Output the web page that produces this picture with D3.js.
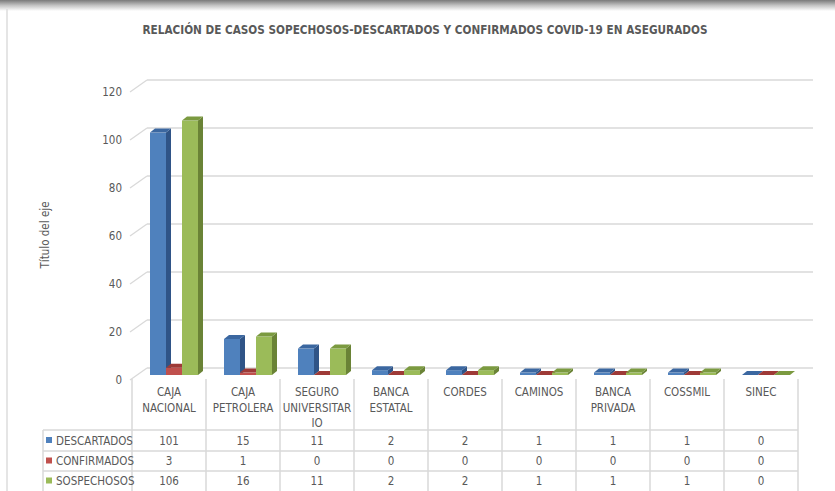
<!DOCTYPE html>
<html>
<head>
<meta charset="utf-8">
<script src="https://cdn.jsdelivr.net/npm/d3@7"></script>
<style>
  body { margin: 0; background: #fff; }
  svg text { font-family: "Liberation Sans Narrow", "Arial Narrow", "DejaVu Sans Condensed", sans-serif; fill: #595959; }
</style>
</head>
<body>
<div id="chart"></div>
<script>
// Data
const categories = [
  ["CAJA", "NACIONAL"],
  ["CAJA", "PETROLERA"],
  ["SEGURO", "UNIVERSITAR", "IO"],
  ["BANCA", "ESTATAL"],
  ["CORDES"],
  ["CAMINOS"],
  ["BANCA", "PRIVADA"],
  ["COSSMIL"],
  ["SINEC"]
];
const seriesNames = ["DESCARTADOS", "CONFIRMADOS", "SOSPECHOSOS"];
const descartados = [101, 15, 11, 2, 2, 1, 1, 1, 0];
const confirmados = [3, 1, 0, 0, 0, 0, 0, 0, 0];
const sospechosos = [106, 16, 11, 2, 2, 1, 1, 1, 0];
const yTicks = [0, 20, 40, 60, 80, 100, 120];

const seriesValues = [descartados, confirmados, sospechosos];
const colors = [
  { front: "#4F81BD", side: "#2F5487", top: "#3B67A0" },
  { front: "#C0504D", side: "#8A2E2C", top: "#9E3A37" },
  { front: "#9BBB59", side: "#6A8336", top: "#7B9A40" }
];

const width = 835, height = 491;
const svg = d3.select('#chart').append('svg')
  .attr('width', width)
  .attr('height', height);

// frame shadow
const defs = svg.append('defs');
const grad = defs.append('linearGradient').attr('id', 'topShadow')
  .attr('x1', 0).attr('y1', 0).attr('x2', 0).attr('y2', 1);
grad.append('stop').attr('offset', 0).attr('stop-color', '#7a7a7a');
grad.append('stop').attr('offset', 0.5).attr('stop-color', '#c4c4c4');
grad.append('stop').attr('offset', 1).attr('stop-color', '#ffffff');
svg.append('rect').attr('x', 0).attr('y', 0).attr('width', width).attr('height', 11)
  .attr('fill', 'url(#topShadow)');
svg.append('line').attr('x1', 7).attr('x2', 7).attr('y1', 9).attr('y2', height)
  .attr('stroke', '#dcdcdc').attr('stroke-width', 1.5);

// Title
svg.append('text')
  .attr('x', 425).attr('y', 34)
  .attr('text-anchor', 'middle')
  .attr('font-size', 13)
  .attr('font-weight', 'bold')
  .attr('textLength', 565)
  .attr('lengthAdjust', 'spacingAndGlyphs')
  .text('RELACIÓN DE CASOS SOPECHOSOS-DESCARTADOS Y CONFIRMADOS COVID-19 EN ASEGURADOS');

// Scales (back wall plane)
const depthX = 17, depthY = 12;
const y = d3.scaleLinear().domain([0, 120]).range([368, 80]);
const x = d3.scaleBand().domain(d3.range(categories.length)).range([132, 798]);
const xs = d3.scaleBand().domain(d3.range(seriesNames.length)).range([18, 66]);

// Gridlines on back wall + left wall diagonals
const grid = svg.append('g');
yTicks.forEach(t => {
  grid.append('line')
    .attr('x1', 130 + depthX).attr('x2', 813)
    .attr('y1', y(t)).attr('y2', y(t))
    .attr('stroke', '#d9d9d9').attr('stroke-width', 1.3);
  grid.append('line')
    .attr('x1', 130).attr('y1', y(t) + depthY)
    .attr('x2', 130 + depthX).attr('y2', y(t))
    .attr('stroke', '#d9d9d9').attr('stroke-width', 1.3);
  grid.append('text')
    .attr('x', 122).attr('y', y(t) + depthY)
    .attr('dy', '0.35em')
    .attr('text-anchor', 'end')
    .attr('font-size', 11.5)
    .text(t);
});

// Axis title
svg.append('text')
  .attr('transform', 'translate(49,235) rotate(-90)')
  .attr('text-anchor', 'middle')
  .attr('font-size', 11.5)
  .text('Título del eje');

// Bars
const bdx = 5, bdy = 4, barOffsetY = 7;
const bars = svg.append('g');
categories.forEach((c, i) => {
  seriesValues.forEach((vals, j) => {
    const v = vals[i];
    const x0 = x(i) + xs(j);
    const w = xs.bandwidth();
    const yTop = y(v) + barOffsetY;
    const yBot = y(0) + barOffsetY;
    const col = colors[j];
    bars.append('rect')
      .attr('x', x0).attr('y', yTop)
      .attr('width', w).attr('height', yBot - yTop)
      .attr('fill', col.front);
    bars.append('path')
      .attr('d', `M${x0 + w},${yTop}L${x0 + w + bdx},${yTop - bdy}L${x0 + w + bdx},${yBot - bdy}L${x0 + w},${yBot}Z`)
      .attr('fill', col.side);
    bars.append('path')
      .attr('d', `M${x0},${yTop}L${x0 + bdx},${yTop - bdy}L${x0 + w + bdx},${yTop - bdy}L${x0 + w},${yTop}Z`)
      .attr('fill', col.top);
  });
});

// Data table
const table = svg.append('g');
const rowY = [430, 451, 471, 491];
const lineColor = '#d9d9d9';
d3.range(categories.length + 1).forEach(k => {
  const xx = k < categories.length ? x(k) : x(categories.length - 1) + x.bandwidth();
  table.append('line')
    .attr('x1', xx).attr('x2', xx)
    .attr('y1', 379).attr('y2', height)
    .attr('stroke', lineColor).attr('stroke-width', 1.5);
});
table.append('line')
  .attr('x1', 43).attr('x2', 43).attr('y1', rowY[0]).attr('y2', height)
  .attr('stroke', lineColor).attr('stroke-width', 1.5);
rowY.slice(0, 3).forEach(ry => {
  table.append('line')
    .attr('x1', 43).attr('x2', 798).attr('y1', ry).attr('y2', ry)
    .attr('stroke', lineColor).attr('stroke-width', 1.5);
});

categories.forEach((lines, i) => {
  const cx = x(i) + x.bandwidth() / 2;
  lines.forEach((ln, k) => {
    table.append('text')
      .attr('x', cx).attr('y', 392 + k * 15.5)
      .attr('dy', '0.35em')
      .attr('text-anchor', 'middle')
      .attr('font-size', 11.5)
      .text(ln);
  });
  seriesValues.forEach((vals, j) => {
    table.append('text')
      .attr('x', cx).attr('y', (rowY[j] + rowY[j + 1]) / 2)
      .attr('dy', '0.35em')
      .attr('text-anchor', 'middle')
      .attr('font-size', 11.5)
      .text(vals[i]);
  });
});

seriesNames.forEach((name, j) => {
  const cy = (rowY[j] + rowY[j + 1]) / 2;
  table.append('rect')
    .attr('x', 46).attr('y', cy - 3.5)
    .attr('width', 6).attr('height', 6)
    .attr('fill', colors[j].front);
  table.append('text')
    .attr('x', 56).attr('y', cy)
    .attr('dy', '0.35em')
    .attr('font-size', 11.5)
    .text(name);
});
</script>
</body>
</html>
